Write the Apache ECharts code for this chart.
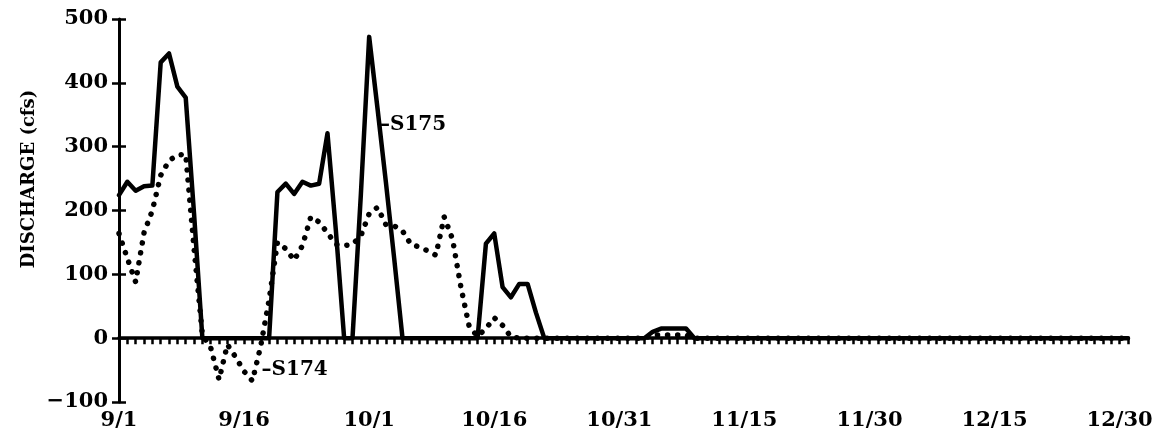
<!DOCTYPE html>
<html>
<head>
<meta charset="utf-8">
<script src="https://cdn.jsdelivr.net/npm/echarts@6/dist/echarts.min.js"></script>
<style>
  html, body { margin: 0; padding: 0; background: #fff; }
  #chart { width: 1159px; height: 443px; }
</style>
</head>
<body>
<div id="chart"></div>
<script>
// Daily discharge, 9/1 (day 0) through 12/31 (day 121), cfs
const tickLabels = ['9/1', '9/16', '10/1', '10/16', '10/31', '11/15', '11/30', '12/15', '12/30'];

const s175 = [
  224, 245, 231, 238, 239, 432, 446, 394, 377, 195,
  0, 0, 0, 0, 0, 0, 0, 0, 0, 229,
  242, 226, 245, 239, 242, 321, 170, 0, 0, 224,
  472, 360, 245, 125, 0, 0, 0, 0, 0, 0,
  0, 0, 0, 0, 148, 164, 80, 64, 85, 85,
  40, 0, 0, 0, 0, 0, 0, 0, 0, 0,
  0, 0, 0, 0, 10, 15, 15, 15, 15, 0,
  0, 0, 0, 0, 0, 0, 0, 0, 0, 0,
  0, 0, 0, 0, 0, 0, 0, 0, 0, 0,
  0, 0, 0, 0, 0, 0, 0, 0, 0, 0,
  0, 0, 0, 0, 0, 0, 0, 0, 0, 0,
  0, 0, 0, 0, 0, 0, 0, 0, 0, 0,
  0, 0
];

const s174 = [
  164, 125, 88, 165, 200, 255, 278, 287, 288, 140,
  5, -15, -65, -10, -30, -52, -67, -12, 60, 150,
  140, 122, 145, 190, 182, 165, 147, 145, 147, 160,
  195, 205, 178, 176, 168, 147, 143, 137, 130, 190,
  155, 80, 18, 3, 15, 32, 20, 2, 0, 0,
  0, 0, 0, 0, 0, 0, 0, 0, 0, 0,
  0, 0, 0, 0, 5, 5, 5, 5, 5, 0,
  0, 0, 0, 0, 0, 0, 0, 0, 0, 0,
  0, 0, 0, 0, 0, 0, 0, 0, 0, 0,
  0, 0, 0, 0, 0, 0, 0, 0, 0, 0,
  0, 0, 0, 0, 0, 0, 0, 0, 0, 0,
  0, 0, 0, 0, 0, 0, 0, 0, 0, 0,
  0, 0
];

const FONT = '"DejaVu Serif", "Liberation Serif", serif';
const toPairs = arr => arr.map((v, i) => [i, v]);

const chart = echarts.init(document.getElementById('chart'), null, { renderer: 'canvas' });

chart.setOption({
  backgroundColor: '#ffffff',
  animation: false,
  grid: { left: 119, right: 31, top: 19, bottom: 41 },
  xAxis: [
    {
      // date labels along the bottom
      type: 'value', min: 0, max: 121, interval: 15, position: 'bottom',
      axisLine: { show: false, onZero: false },
      axisTick: { show: false },
      splitLine: { show: false },
      axisLabel: {
        margin: 8, color: '#000', fontFamily: FONT, fontWeight: 'bold', fontSize: 21,
        showMaxLabel: false,
        formatter: v => (v % 15 === 0 && tickLabels[v / 15]) ? tickLabels[v / 15] : ''
      }
    },
    {
      // zero line with one tick per day
      type: 'value', min: 0, max: 121, interval: 1, position: 'bottom',
      axisLine: { show: true, onZero: true, lineStyle: { color: '#000', width: 3.5 } },
      axisTick: { show: true, inside: false, length: 6, lineStyle: { color: '#000', width: 2.5 } },
      axisLabel: { show: false },
      splitLine: { show: false }
    }
  ],
  yAxis: [
    {
      type: 'value', min: -100, max: 500, interval: 100, position: 'left',
      axisLine: { show: true, onZero: false, lineStyle: { color: '#000', width: 3 } },
      axisTick: { show: true, inside: false, length: 7, lineStyle: { color: '#000', width: 2.5 } },
      splitLine: { show: false },
      axisLabel: {
        margin: 11, color: '#000', fontFamily: FONT, fontWeight: 'bold', fontSize: 21,
        formatter: v => v < 0 ? '\u2212' + Math.abs(v) : String(v)
      }
    },
    {
      // inner half of the crossing ticks
      type: 'value', min: -100, max: 500, interval: 100, position: 'left',
      axisLine: { show: false, onZero: false },
      axisTick: { show: true, inside: true, length: 7, lineStyle: { color: '#000', width: 2.5 } },
      axisLabel: { show: false },
      splitLine: { show: false }
    }
  ],
  graphic: [
    {
      type: 'text', x: 29, y: 179, rotation: Math.PI / 2,
      style: {
        text: 'DISCHARGE (cfs)', fill: '#000',
        font: 'bold 18px ' + FONT,
        textAlign: 'center', textVerticalAlign: 'middle',
        align: 'center', verticalAlign: 'middle'
      }
    }
  ],
  series: [
    {
      name: 'S174', type: 'line', xAxisIndex: 0, yAxisIndex: 0,
      data: toPairs(s174), showSymbol: false, symbol: 'none', z: 3,
      lineStyle: { color: '#000', width: 5.5, type: [0.1, 10], cap: 'round', join: 'round' },
      markPoint: {
        symbol: 'circle', symbolSize: 0, silent: true,
        label: { show: true, position: 'right', distance: 0, color: '#000', fontFamily: FONT, fontWeight: 'bold', fontSize: 20, formatter: '\u2013S174' },
        data: [{ coord: [17.1, -50] }]
      }
    },
    {
      name: 'S175', type: 'line', xAxisIndex: 0, yAxisIndex: 0,
      data: toPairs(s175), showSymbol: false, symbol: 'none', z: 4,
      lineStyle: { color: '#000', width: 4.5, join: 'round', cap: 'round' },
      markPoint: {
        symbol: 'circle', symbolSize: 0, silent: true,
        label: { show: true, position: 'right', distance: 0, color: '#000', fontFamily: FONT, fontWeight: 'bold', fontSize: 20, formatter: '\u2013S175' },
        data: [{ coord: [31.3, 335] }]
      }
    }
  ]
});
</script>
</body>
</html>
